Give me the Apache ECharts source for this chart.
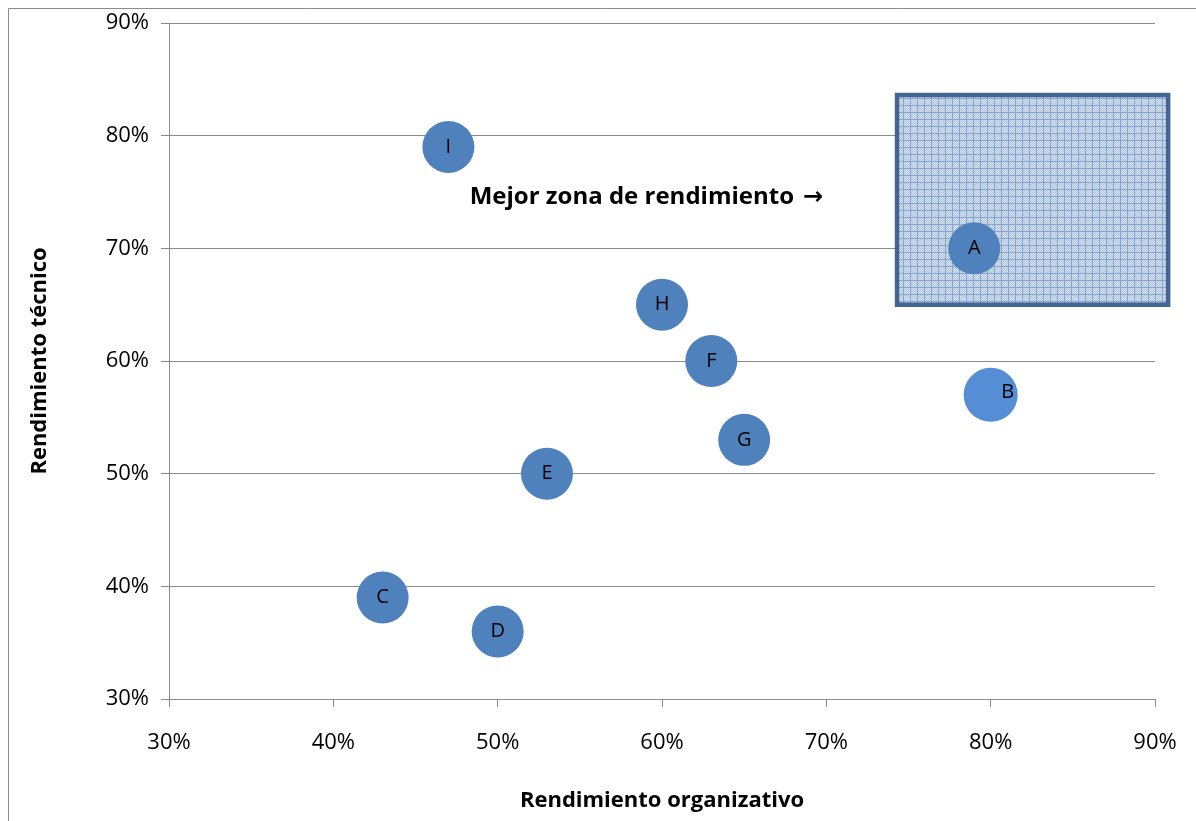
<!DOCTYPE html>
<html>
<head>
<meta charset="utf-8">
<script src="https://cdn.jsdelivr.net/npm/echarts@6/dist/echarts.min.js"></script>
<style>
  html, body { margin: 0; padding: 0; background: #fff; overflow: hidden; }
  #chart { width: 1196px; height: 821px; }
</style>
</head>
<body>
<div id="chart"></div>
<script>
// Units: organizational and technical performance (percent)
const labels = ['A', 'B', 'C', 'D', 'E', 'F', 'G', 'H', 'I'];
const organizativo = [79, 80, 43, 50, 53, 63, 65, 60, 47];
const tecnico = [70, 57, 39, 36, 50, 60, 53, 65, 79];
const bubbleSizes = [52, 54, 52, 52, 52, 52, 52, 52, 52];

// Highlighted zone: [xFrom, yTop, xTo, yBottom]
const bestZone = [74.3, 83.6, 90.8, 65.0];
const zoneText = 'Mejor zona de rendimiento';
const zoneArrow = '\u2192';
const zoneTextPos = [48.3, 74.5];

const axisTicks = { min: 30, max: 90, interval: 10 };

const FONT = '"Open Sans", "Noto Sans", sans-serif';

// Small dotted/grid tile used as the zone's fill
function makeTile() {
  const n = 7;
  const c = document.createElement('canvas');
  c.width = n; c.height = n;
  const g = c.getContext('2d');
  g.fillStyle = '#dde7f4';
  g.fillRect(0, 0, n, n);
  g.fillStyle = '#a3bde2';
  for (let y = 0; y < n; y++) {
    for (let x = 0; x < n; x++) {
      if ((x + y) % 2 === 0) g.fillRect(x, y, 1, 1);
    }
  }
  g.fillStyle = '#819fd0';
  g.fillRect(0, 0, n, 1);
  g.fillRect(0, 0, 1, n);
  return c;
}

const points = labels.map((n, i) => ({
  name: n,
  value: [organizativo[i], tecnico[i]],
  symbolSize: bubbleSizes[i],
  itemStyle: { color: n === 'B' ? '#558ed5' : '#4f81bd' },
  label: n === 'B' ? { offset: [17, -3] } : undefined
}));

const chart = echarts.init(document.getElementById('chart'), null, { renderer: 'canvas' });

chart.setOption({
  animation: false,
  backgroundColor: '#fff',
  graphic: [{
    type: 'rect',
    x: 8.5, y: 8.5,
    shape: { x: 0, y: 0, width: 1400, height: 1000 },
    style: { fill: 'none', stroke: '#8c8c8c', lineWidth: 1 },
    z: -1
  }],
  grid: { left: 169, right: 41, top: 23, bottom: 122 },
  xAxis: {
    type: 'value',
    min: axisTicks.min, max: axisTicks.max, interval: axisTicks.interval,
    name: 'Rendimiento organizativo',
    nameLocation: 'middle',
    nameGap: 91,
    nameTextStyle: { fontFamily: FONT, fontWeight: 'bold', fontSize: 22, color: '#000' },
    axisLine: { show: true, lineStyle: { color: '#8c8c8c', width: 1 } },
    axisTick: { show: true, inside: false, length: 8, lineStyle: { color: '#8c8c8c' } },
    axisLabel: { formatter: '{value}%', margin: 33, fontFamily: FONT, fontSize: 22, color: '#000' },
    splitLine: { show: false }
  },
  yAxis: {
    type: 'value',
    min: axisTicks.min, max: axisTicks.max, interval: axisTicks.interval,
    name: 'Rendimiento técnico',
    nameLocation: 'middle',
    nameGap: 118,
    nameTextStyle: { fontFamily: FONT, fontWeight: 'bold', fontSize: 22, color: '#000' },
    axisLine: { show: true, lineStyle: { color: '#8c8c8c', width: 1 } },
    axisTick: { show: true, inside: false, length: 8, lineStyle: { color: '#8c8c8c' } },
    axisLabel: { formatter: '{value}%', margin: 20, fontFamily: FONT, fontSize: 22, color: '#000' },
    splitLine: { show: true, lineStyle: { color: '#8c8c8c', width: 1 } }
  },
  series: [
    {
      // shaded "best zone" rectangle
      type: 'custom',
      z: 1,
      clip: false,
      silent: true,
      data: [bestZone],
      renderItem: function (params, api) {
        const p1 = api.coord([api.value(0), api.value(1)]);
        const p2 = api.coord([api.value(2), api.value(3)]);
        return {
          type: 'rect',
          shape: { x: p1[0], y: p1[1], width: p2[0] - p1[0], height: p2[1] - p1[1] },
          style: {
            fill: { image: makeTile(), repeat: 'repeat' },
            stroke: '#385d8a',
            lineWidth: 4.5,
            opacity: 0.94
          }
        };
      }
    },
    {
      // zone caption
      type: 'custom',
      z: 3,
      clip: false,
      silent: true,
      data: [zoneTextPos],
      renderItem: function (params, api) {
        const p = api.coord([api.value(0), api.value(1)]);
        return {
          type: 'text',
          x: p[0], y: p[1],
          style: {
            text: '{t|' + zoneText + '}{a|' + zoneArrow + '}',
            rich: {
              t: { fontFamily: FONT, fontWeight: 'bold', fontSize: 24, color: '#000' },
              a: { fontFamily: 'DejaVu Sans', fontWeight: 'bold', fontSize: 24, color: '#000', padding: [0, 0, 0, 9] }
            },
            textAlign: 'left',
            textVerticalAlign: 'middle'
          }
        };
      }
    },
    {
      type: 'scatter',
      z: 4,
      symbol: 'circle',
      data: points,
      itemStyle: { opacity: 1 },
      label: {
        show: true,
        position: 'inside',
        formatter: p => p.name,
        fontFamily: FONT,
        fontSize: 20,
        color: '#000'
      }
    }
  ]
});
</script>
</body>
</html>
